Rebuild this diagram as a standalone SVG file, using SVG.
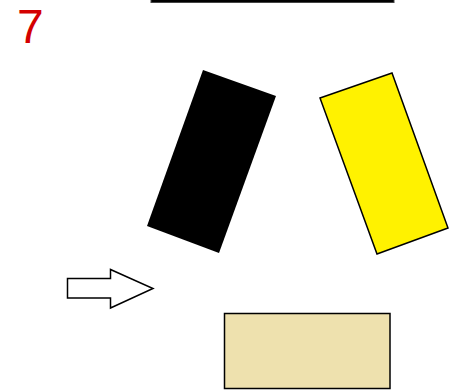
<svg xmlns="http://www.w3.org/2000/svg" width="462" height="390" viewBox="0 0 462 390">
<style>
.shape{stroke:#000;stroke-width:1.5;stroke-linejoin:miter}
.label{font-family:"Liberation Sans",Arial,sans-serif;fill:#d40000}
</style>
<rect width="462" height="390" fill="#fff"/>
<g id="number">
<text class="label" x="17" y="43" font-size="48">7</text>
</g>
<g id="top-bar">
<rect x="151" y="-6" width="243" height="8.5" fill="#000" stroke="#444" stroke-width="1"/>
</g>
<g id="black-block">
<polygon points="203,70 276,96 219,253 147,226" fill="#000"/>
</g>
<g id="yellow-block">
<polygon class="shape" points="392,73 320,98 377,254 448,228" fill="#fff200"/>
</g>
<g id="arrow">
<polygon class="shape" points="67.5,278.5 110.5,278.5 110.5,269.5 153,288.5 110.5,308 110.5,298 67.5,298" fill="#fff" stroke-width="2.5"/>
</g>
<g id="beige-block">
<rect class="shape" x="224.5" y="313.5" width="165.5" height="75" fill="#eee1ae" stroke="#333" stroke-width="1.5"/>
</g>
</svg>
